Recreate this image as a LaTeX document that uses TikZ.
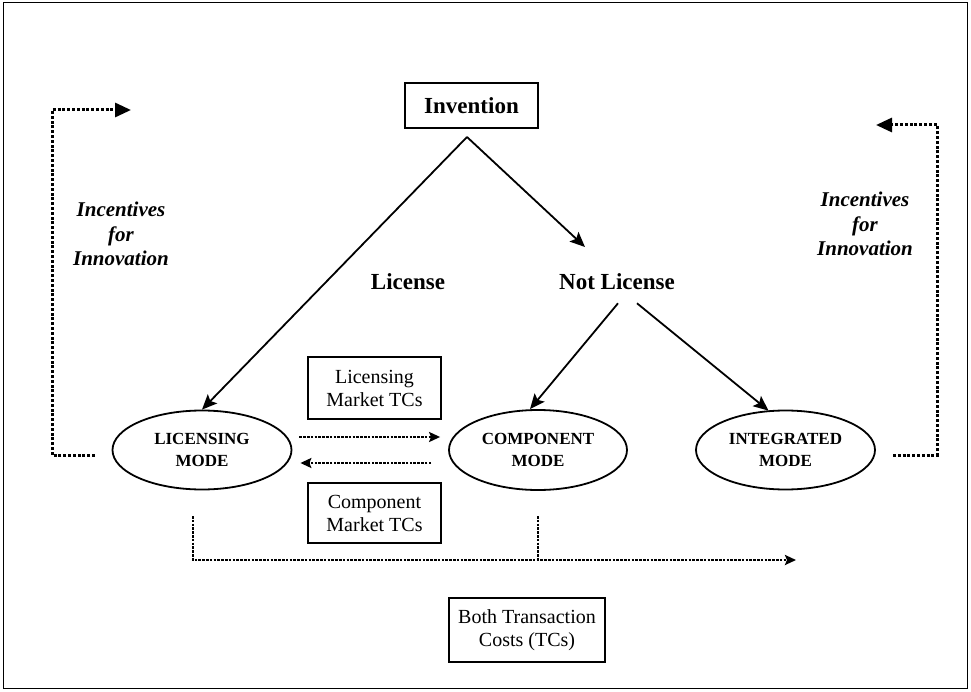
\documentclass[tikz,border=0pt]{standalone}
\usepackage{fontspec}
\setmainfont{Liberation Serif}
\usetikzlibrary{arrows.meta,calc,shapes.geometric}
\begin{document}
\begin{tikzpicture}[x=1pt,y=-1pt,
  lbl/.style={font=\fontsize{23}{26}\selectfont\bfseries, inner sep=0pt},
  boxtxt/.style={draw, line width=1.2pt, font=\fontsize{20}{23}\selectfont, align=center, inner sep=0pt},
  mode/.style={ellipse, draw, line width=1.8pt, font=\fontsize{17}{22}\selectfont\bfseries, align=center, inner sep=0pt},
  incent/.style={font=\fontsize{21}{24.5}\selectfont\bfseries\itshape, align=center, inner sep=0pt},
  solidarr/.style={line width=1.8pt, -{Stealth[length=15pt,width=13pt,inset=3pt]}},
  bigdot/.style={line width=3pt, dash pattern=on 3pt off 1.8pt},
  bigdotarr/.style={bigdot, -{Triangle[length=16pt,width=14pt]}},
  smalldot/.style={line width=2.6pt, dash pattern=on 2.6pt off 1.2pt},
  smalldotarr/.style={smalldot, -{Stealth[length=11pt,width=10pt,inset=2pt]}}
]
\useasboundingbox (0,0) rectangle (971,692);
\draw[line width=1pt] (3,3) rectangle (967.5,688.5);

% nodes
\node[draw, line width=1.5pt, minimum width=133pt, minimum height=45pt, lbl] (inv) at (471.5,105.5) {Invention};
\node[lbl] (lic-l) at (408,282) {License};
\node[lbl] (nl) at (617,282) {Not License};

\node[mode, minimum width=179pt, minimum height=79pt] (lic) at (202,450) {LICENSING\\MODE};
\node[mode, minimum width=178pt, minimum height=80pt] (comp) at (538,450) {COMPONENT\\MODE};
\node[mode, minimum width=179pt, minimum height=79pt] (integ) at (785.5,450) {INTEGRATED\\MODE};

\node[boxtxt, minimum width=133pt, minimum height=62pt] (lmtc) at (374.5,388) {Licensing\\Market TCs};
\node[boxtxt, minimum width=133pt, minimum height=60pt] (cmtc) at (374.5,513) {Component\\Market TCs};
\node[boxtxt, minimum width=156pt, minimum height=64pt] (both) at (527,630) {Both Transaction\\Costs (TCs)};

\node[incent] (incL) at (121,234) {Incentives\\for\\Innovation};
\node[incent] (incR) at (865,224) {Incentives\\for\\Innovation};

% tree connectors
\coordinate (apex) at (467,137);
\coordinate (nltip) at (585,247);
\draw[solidarr] (apex) -- (lic.north);
\draw[solidarr] (apex) -- (nltip);
\draw[solidarr] ($(nl.south)+(1,13)$) -- ($(comp.north)+(-8,0)$);
\draw[solidarr] ($(nl.south)+(20,13)$) -- ($(integ.north)+(-17,1)$);

% between modes
\draw[smalldotarr] ($(lic.east)+(7,-13)$) -- ($(comp.west)+(-8,-13)$);
\draw[smalldotarr] ($(comp.west)+(-17,13)$) -- ($(lic.east)+(8,13)$);

% bottom both-costs line
\coordinate (b1) at (193,516);
\coordinate (b2) at (538,516);
\coordinate (bend) at (796,560);
\draw[smalldotarr] (b1) -- (193,560) -- (bend);
\draw[smalldot] (b2) -- (538,560);

% feedback loops
\coordinate (fl1) at (95,455);
\coordinate (fl2) at (131,110);
\draw[bigdotarr] (fl1) -- (52,455) -- (52,110) -- (fl2);
\coordinate (fr1) at (893,455);
\coordinate (fr2) at (876,125);
\draw[bigdotarr] (fr1) -- (937,455) -- (937,125) -- (fr2);
\end{tikzpicture}
\end{document}
